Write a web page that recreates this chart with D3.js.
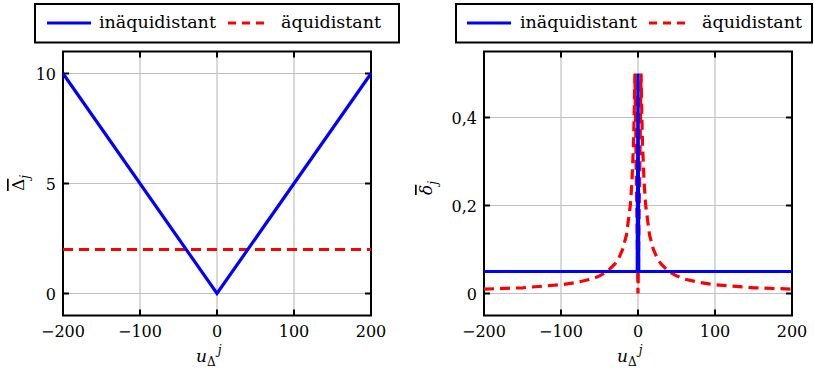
<!DOCTYPE html>
<meta charset="utf-8">
<style>
body { margin: 0; background: #fff; }
text { font-family: "DejaVu Serif", serif; fill: #000; }
.grid line { stroke: #c0c0c0; stroke-width: 1.2px; }
.tick-mark { stroke: #000; stroke-width: 2px; }
.frame { fill: none; stroke: #000; stroke-width: 2px; }
.legend-box { fill: #fff; stroke: #000; stroke-width: 2px; }
.ineq { fill: none; stroke: #0000ff; stroke-width: 3.2px; }
.eq { fill: none; stroke: #ff0000; stroke-width: 3.2px; stroke-dasharray: 10,6; }
</style>
<svg width="814" height="372"></svg>
<script src="https://d3js.org/d3.v7.min.js"></script>
<script>

// left plot: Delta_j over u
var uIneqLeft = [-200, 0, 200];
var DeltaIneq = [10, 0, 10];
var uEqLeft = [-200, 200];
var DeltaEq = [2, 2];

// right plot: delta_j over u
var uIneqRight = [-200, -1, 0, 1, 200];
var deltaIneq = [0.05, 0.05, 0.5, 0.05, 0.05];
var uEqRight = [-200, -150, -100, -80, -60, -50, -40, -30, -25, -20, -15, -10, -8, -6, -5, -4, 0,
                4, 5, 6, 8, 10, 15, 20, 25, 30, 40, 50, 60, 80, 100, 150, 200];
var deltaEq = [0.01, 0.013, 0.02, 0.025, 0.033, 0.04, 0.05, 0.067, 0.08, 0.1, 0.133, 0.2, 0.25, 0.333, 0.4, 0.5, 0,
               0.5, 0.4, 0.333, 0.25, 0.2, 0.133, 0.1, 0.08, 0.067, 0.05, 0.04, 0.033, 0.025, 0.02, 0.013, 0.01];

var xTicks = [-200, -100, 0, 100, 200];
var xTickLabels = ["\u2212200", "\u2212100", "0", "100", "200"];
var yTicksLeft = [0, 5, 10];
var yTickLabelsLeft = ["0", "5", "10"];
var yTicksRight = [0, 0.2, 0.4];
var yTickLabelsRight = ["0", "0,2", "0,4"];
var legendLabels = ["in\u00e4quidistant", "\u00e4quidistant"];

var svg = d3.select("svg");

function panel(opt) {
  var x = d3.scaleLinear().domain([-200, 200]).range([opt.x0, opt.x0 + 308]);
  var y = d3.scaleLinear().domain(opt.yDomain).range([315.5, 51.5]);
  var g = svg.append("g");

  // grid
  var grid = g.append("g").attr("class", "grid");
  grid.selectAll(".gx").data(xTicks.slice(1, -1)).enter().append("line")
      .attr("x1", function(d) { return x(d); }).attr("x2", function(d) { return x(d); })
      .attr("y1", y.range()[0]).attr("y2", y.range()[1]);
  grid.selectAll(".gy").data(opt.yTicks).enter().append("line")
      .attr("y1", function(d) { return y(d); }).attr("y2", function(d) { return y(d); })
      .attr("x1", x.range()[0]).attr("x2", x.range()[1]);

  // inward ticks on all sides
  xTicks.forEach(function(d) {
    g.append("line").attr("class", "tick-mark")
        .attr("x1", x(d)).attr("x2", x(d)).attr("y1", y.range()[0]).attr("y2", y.range()[0] - 6);
    g.append("line").attr("class", "tick-mark")
        .attr("x1", x(d)).attr("x2", x(d)).attr("y1", y.range()[1]).attr("y2", y.range()[1] + 6);
  });
  opt.yTicks.forEach(function(d) {
    g.append("line").attr("class", "tick-mark")
        .attr("y1", y(d)).attr("y2", y(d)).attr("x1", x.range()[0]).attr("x2", x.range()[0] + 6);
    g.append("line").attr("class", "tick-mark")
        .attr("y1", y(d)).attr("y2", y(d)).attr("x1", x.range()[1]).attr("x2", x.range()[1] - 6);
  });

  g.append("rect").attr("class", "frame")
      .attr("x", x.range()[0]).attr("y", y.range()[1])
      .attr("width", x.range()[1] - x.range()[0]).attr("height", y.range()[0] - y.range()[1]);

  // tick labels
  g.selectAll(".xl").data(xTicks).enter().append("text")
      .attr("x", function(d) { return x(d); }).attr("y", 337)
      .attr("text-anchor", "middle").style("font-size", "16px")
      .text(function(d, i) { return xTickLabels[i]; });
  g.selectAll(".yl").data(opt.yTicks).enter().append("text")
      .attr("x", x.range()[0] - 7).attr("y", function(d) { return y(d) + 6; })
      .attr("text-anchor", "end").style("font-size", "16px")
      .text(function(d, i) { return opt.yTickLabels[i]; });

  // lines
  var line = d3.line().x(function(d) { return x(d[0]); }).y(function(d) { return y(d[1]); });
  g.append("path").attr("class", "eq").attr("d", line(d3.zip(opt.uEq, opt.vEq)));
  g.append("path").attr("class", "ineq").attr("d", line(d3.zip(opt.uIneq, opt.vIneq)));

  // x label  u_Delta^j
  var xl = g.append("text").attr("x", x(0) - 21).attr("y", 362).style("font-size", "17px");
  xl.append("tspan").style("font-style", "italic").text("u");
  xl.append("tspan").attr("dy", 4).style("font-size", "12px").text("\u0394");
  xl.append("tspan").attr("dy", -12).attr("dx", 2).style("font-size", "12px").style("font-style", "italic").text("j");

  // y label
  var yl = g.append("text")
      .attr("transform", "translate(" + opt.ylx + "," + opt.yly + ") rotate(-90)")
      .attr("text-anchor", "middle").style("font-size", "17px");
  yl.append("tspan").style("font-style", opt.yItalic ? "italic" : "normal")
      .style("text-decoration", "overline").text(opt.ySym);
  yl.append("tspan").attr("dy", 5).style("font-size", "12px").style("font-style", "italic").text("j");

  // legend
  var lg = g.append("g");
  lg.append("rect").attr("class", "legend-box")
      .attr("x", opt.lg[0]).attr("y", 4).attr("width", opt.lg[1] - opt.lg[0]).attr("height", 38.5);
  lg.append("line").attr("class", "ineq").attr("x1", opt.lg[2]).attr("x2", opt.lg[2] + 44).attr("y1", 23).attr("y2", 23);
  lg.append("text").attr("x", opt.lg[3]).attr("y", 28).style("font-size", "17.5px").text(legendLabels[0]);
  lg.append("line").attr("class", "eq").style("stroke-dasharray", "8,6")
      .attr("x1", opt.lg[4]).attr("x2", opt.lg[4] + 40).attr("y1", 23).attr("y2", 23);
  lg.append("text").attr("x", opt.lg[5]).attr("y", 28).style("font-size", "17.5px").text(legendLabels[1]);
}

panel({
  x0: 63, yDomain: [-1, 11], yTicks: yTicksLeft, yTickLabels: yTickLabelsLeft,
  uIneq: uIneqLeft, vIneq: DeltaIneq, uEq: uEqLeft, vEq: DeltaEq,
  ySym: "\u0394", yItalic: false, ylx: 24, yly: 183,
  lg: [35, 399, 47, 99, 228, 281]
});

panel({
  x0: 484, yDomain: [-0.05, 0.55], yTicks: yTicksRight, yTickLabels: yTickLabelsRight,
  uIneq: uIneqRight, vIneq: deltaIneq, uEq: uEqRight, vEq: deltaEq,
  ySym: "\u03b4", yItalic: true, ylx: 432, yly: 188,
  lg: [456, 812, 467, 520, 649, 702]
});

</script>
